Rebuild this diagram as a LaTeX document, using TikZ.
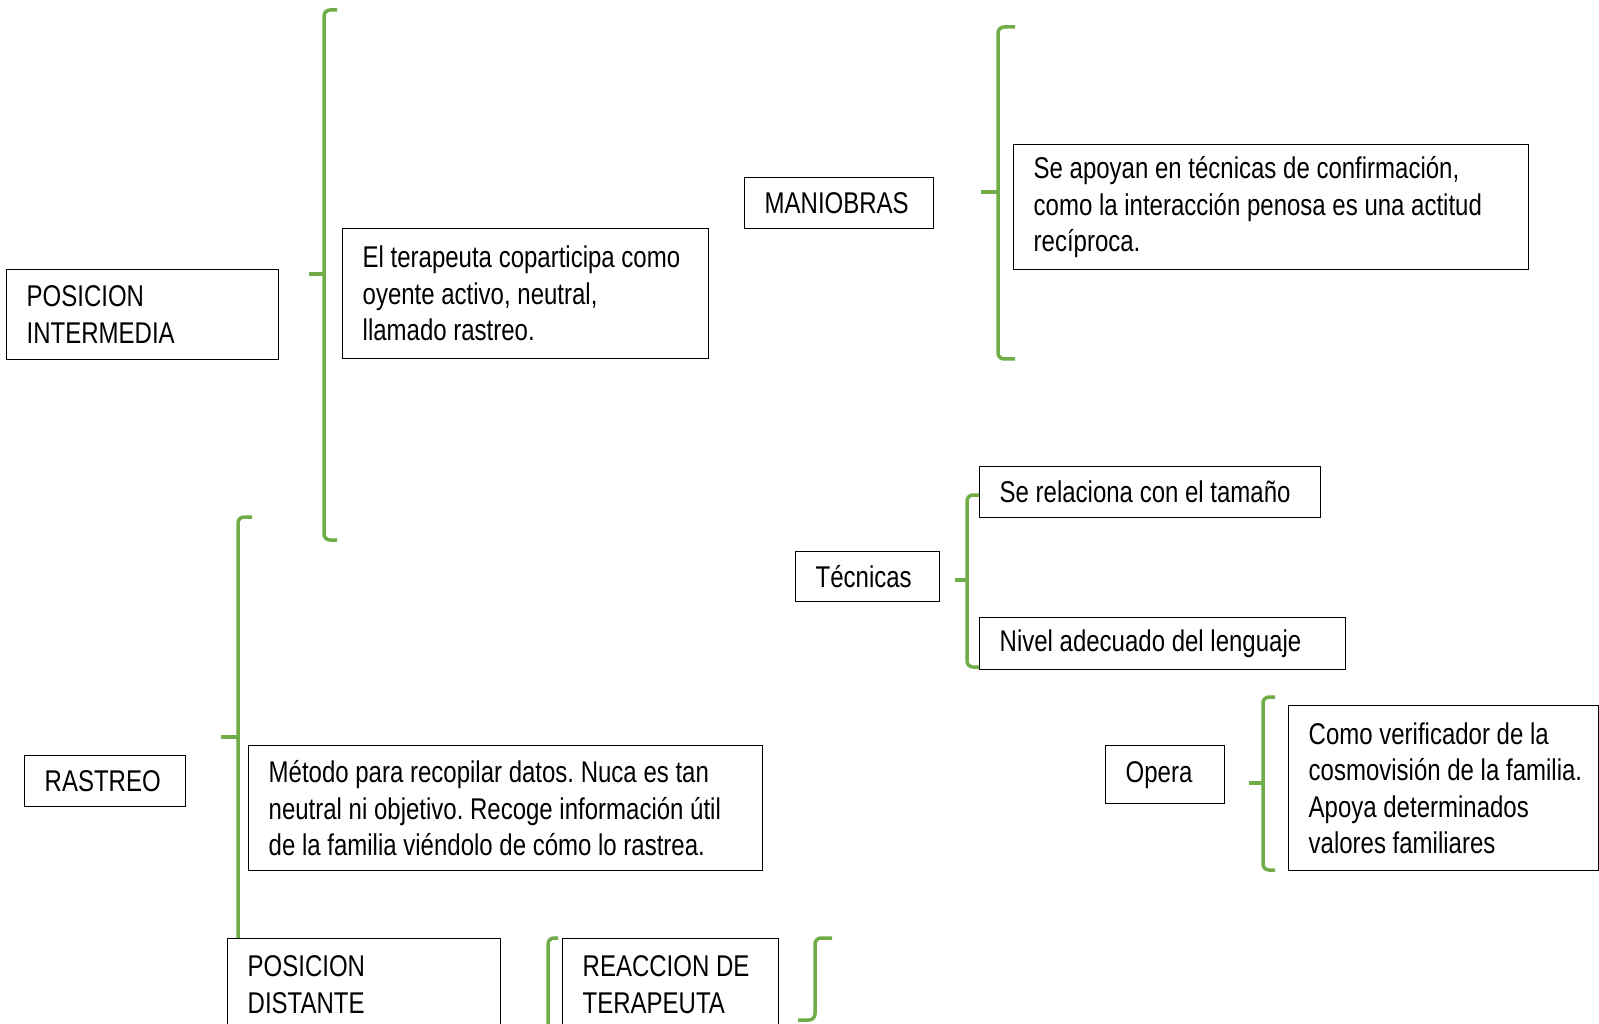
\documentclass[tikz,border=0pt]{standalone}
\usepackage{fontspec}
\setmainfont[FakeStretch=0.80]{Liberation Sans}
\usepackage{tikz}
\definecolor{verde}{RGB}{112,173,71}
\newcommand{\letracaja}{\fontsize{30}{36.5}\selectfont\frenchspacing
  \hyphenpenalty=10000\relax}

\begin{document}
\begin{tikzpicture}[x=1pt,y=-1pt,
  caja/.style={rectangle,draw,line width=1.4pt,anchor=north west,align=flush left,
    inner xsep=20pt,inner ysep=0pt,font=\letracaja},
  llave/.style={draw=verde,line width=3.5pt,rounded corners=6pt}]
\useasboundingbox (0,0) rectangle (1599,1024);
% cajas de la izquierda
\node[caja,text width=232pt,minimum height=90pt] (posint) at (6,269) {POSICION\\INTERMEDIA};
\node[caja,text width=326pt,minimum height=130pt] (terap) at (342,228) {El terapeuta coparticipa como\\oyente activo, neutral,\\llamado rastreo.};
\node[caja,text width=121pt,minimum height=51pt] (rastreo) at (24,755) {RASTREO};
\node[caja,text width=474pt,minimum height=125pt] (metodo) at (248,745) {Método para recopilar datos. Nuca es tan\\neutral ni objetivo. Recoge información útil\\de la familia viéndolo de cómo lo rastrea.};
\node[caja,text width=233pt,minimum height=92pt] (posdist) at (227,938) {POSICION\\DISTANTE};
\node[caja,text width=176pt,minimum height=92pt] (reaccion) at (562,938) {REACCION DE\\TERAPEUTA};
% cajas de la derecha
\node[caja,text width=149pt,minimum height=51pt] (maniobras) at (744,177) {MANIOBRAS};
\node[caja,text width=475pt,minimum height=125pt] (apoyan) at (1013,144) {Se apoyan en técnicas de confirmación,\\como la interacción penosa es una actitud\\recíproca.};
\node[caja,text width=104pt,minimum height=50pt] (tecnicas) at (795,551) {Técnicas};
\node[caja,text width=301pt,minimum height=51pt] (relaciona) at (979,466) {Se relaciona con el tamaño};
\node[caja,text width=326pt,minimum height=52pt] (nivel) at (979,617) {Nivel adecuado del lenguaje};
\node[caja,text width=79pt,minimum height=58pt] (opera) at (1105,745) {Opera};
\node[caja,text width=270pt,minimum height=165pt] (como) at (1288,705) {Como verificador de la\\\mbox{cosmovisión de la familia.}\\Apoya determinados\\valores familiares};
% llaves
\draw[llave] (337,10) -- (324,10) -- (324,540) -- (337,540);
\draw[llave,rounded corners=0pt] (309,274) -- (324,274);
\draw[llave] (1015,27) -- (998,27) -- (998,359) -- (1015,359);
\draw[llave,rounded corners=0pt] (981,192) -- (998,192);
\draw[llave] (252,517) -- (238,517) -- (238,938);
\draw[llave,rounded corners=0pt] (221,737) -- (238,737);
\draw[llave] (979,495) -- (967,495) -- (967,667) -- (979,667);
\draw[llave,rounded corners=0pt] (955,580) -- (967,580);
\draw[llave] (1275,697) -- (1263,697) -- (1263,870) -- (1275,870);
\draw[llave,rounded corners=0pt] (1249,783) -- (1263,783);
\draw[llave] (558,938) -- (548,938) -- (548,1040);
\draw[llave] (832,938) -- (815,938) -- (815,1020) -- (798,1020);
\end{tikzpicture}
\end{document}
